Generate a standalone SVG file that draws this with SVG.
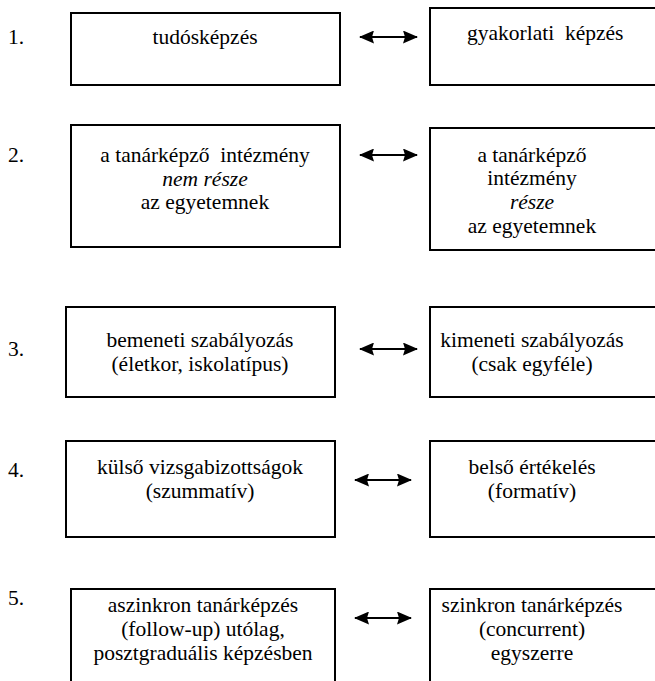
<svg xmlns="http://www.w3.org/2000/svg" width="655" height="681" viewBox="0 0 655 681">
<defs>
<marker id="ah" viewBox="0 0 15 13" refX="14" refY="6.5" markerWidth="15" markerHeight="13" markerUnits="userSpaceOnUse" orient="auto-start-reverse">
<path d="M0,0 L15,6.5 L0,13 L2,6.5 Z" fill="#000"/>
</marker>
</defs>
<style>
.box{fill:#fff;stroke:#000;stroke-width:2}
.t{font-family:"Liberation Serif","Times New Roman",serif;font-size:21.5px;fill:#000}
.c{text-anchor:middle}
.i{font-style:italic}
.arr{stroke:#000;stroke-width:2;fill:none;marker-start:url(#ah);marker-end:url(#ah)}
</style>
<rect width="655" height="681" fill="#fff"/>
<g id="labels">
<text class="t" x="8" y="44">1.</text>
<text class="t" x="8" y="162">2.</text>
<text class="t" x="8" y="356">3.</text>
<text class="t" x="8" y="477">4.</text>
<text class="t" x="8" y="605">5.</text>
</g>
<g id="n1l"><rect class="box" x="71" y="13" width="269" height="72"/><text class="t c" x="205" y="44">tudósképzés</text></g>
<g id="n1r"><rect class="box" x="430" y="8" width="260" height="77"/><text class="t" x="467" y="40" xml:space="preserve">gyakorlati  képzés</text></g>
<g id="n2l"><rect class="box" x="71" y="125" width="269" height="122"/>
<text class="t c" x="205" y="162" xml:space="preserve">a tanárképző  intézmény</text>
<text class="t c i" x="205" y="186">nem része</text>
<text class="t c" x="205" y="209">az egyetemnek</text></g>
<g id="n2r"><rect class="box" x="430" y="128" width="260" height="122"/>
<text class="t c" x="532" y="162">a tanárképző</text>
<text class="t c" x="532" y="185">intézmény</text>
<text class="t c i" x="532" y="209">része</text>
<text class="t c" x="532" y="233">az egyetemnek</text></g>
<g id="n3l"><rect class="box" x="66" y="307" width="269" height="90"/>
<text class="t c" x="200" y="347">bemeneti szabályozás</text>
<text class="t c" x="200" y="371">(életkor, iskolatípus)</text></g>
<g id="n3r"><rect class="box" x="430" y="307" width="260" height="90"/>
<text class="t c" x="532" y="347">kimeneti szabályozás</text>
<text class="t c" x="532" y="371">(csak egyféle)</text></g>
<g id="n4l"><rect class="box" x="66" y="441" width="269" height="96"/>
<text class="t c" x="200" y="474">külső vizsgabizottságok</text>
<text class="t c" x="200" y="498">(szummatív)</text></g>
<g id="n4r"><rect class="box" x="430" y="441" width="260" height="96"/>
<text class="t c" x="532" y="474">belső értékelés</text>
<text class="t c" x="532" y="498">(formatív)</text></g>
<g id="n5l"><rect class="box" x="71" y="589" width="264" height="110"/>
<text class="t c" x="203" y="612">aszinkron tanárképzés</text>
<text class="t c" x="203" y="636">(follow-up) utólag,</text>
<text class="t c" x="203" y="660">posztgraduális képzésben</text></g>
<g id="n5r"><rect class="box" x="430" y="589" width="260" height="110"/>
<text class="t c" x="532" y="612">szinkron tanárképzés</text>
<text class="t c" x="532" y="636">(concurrent)</text>
<text class="t c" x="532" y="660">egyszerre</text></g>
<g id="connectors">
<line class="arr" x1="360" y1="37" x2="417" y2="37"/>
<line class="arr" x1="360" y1="155" x2="417" y2="155"/>
<line class="arr" x1="360" y1="349" x2="417" y2="349"/>
<line class="arr" x1="355" y1="480" x2="411" y2="480"/>
<line class="arr" x1="355" y1="618" x2="411" y2="618"/>
</g>
</svg>
